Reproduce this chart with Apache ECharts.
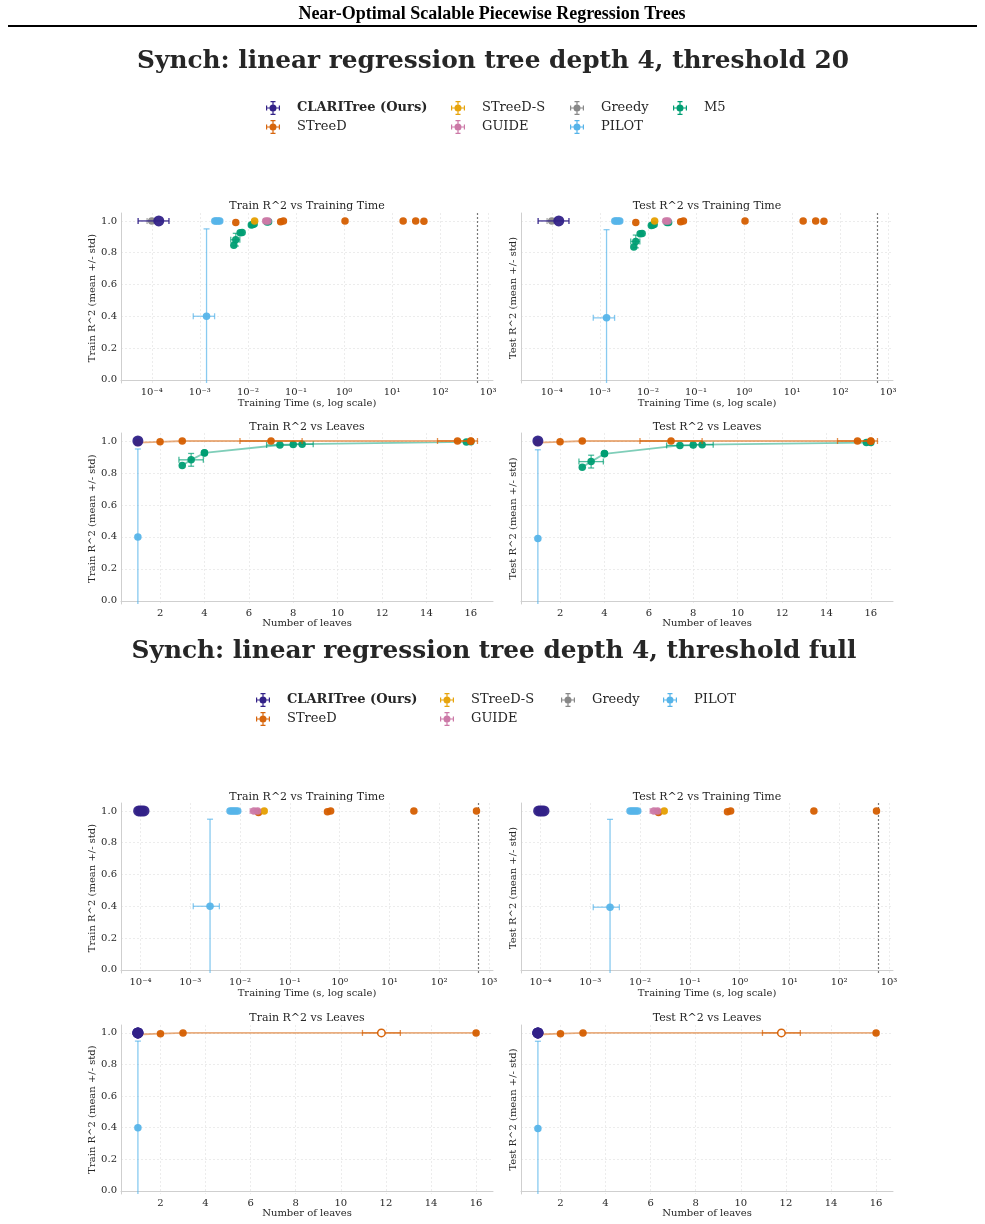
<!DOCTYPE html>
<html>
<head>
<meta charset="utf-8">
<script src="https://cdn.jsdelivr.net/npm/echarts@6/dist/echarts.min.js"></script>
<style>
html, body { margin: 0; padding: 0; background: #fff; }
#main { width: 985px; height: 1224px; }
</style>
</head>
<body>
<div id="main"></div>
<script>
// one row per configuration:
// [time (s), time std, train R2, train std, test R2, test std, leaves, leaves std]
const methodNames = ['CLARITree (Ours)', 'STreeD', 'STreeD-S', 'GUIDE', 'Greedy', 'PILOT', 'M5'];

// section 1: threshold 20
const s1Clari = [[1.4e-4, 0.88e-4, 1.0, 0, 1.0, 0, 1, 0]];
const s1STreeD = [
  [5.6e-3, 0, 0.99, 0, 0.99, 0, 1, 0],
  [0.048, 0, 0.995, 0, 0.995, 0, 2, 0],
  [0.055, 0, 1.0, 0, 1.0, 0, 3, 0],
  [1.05, 0, 1.0, 0, 1.0, 0, 7, 1.4],
  [17, 0, 1.0, 0, 1.0, 0, 15.4, 0.9],
  [31, 0, 1.0, 0, 1.0, 0, 16, 0],
  [46, 0, 0.998, 0, 0.998, 0, 16, 0]
];
const s1STreeDS = [[0.0138, 0, 1.0, 0, 1.0, 0, null, null]];
const s1Guide = [
  [0.0235, 0.002, 1.0, 0, 1.0, 0, null, null],
  [0.0262, 0, 1.0, 0, 1.0, 0, null, null]
];
const s1Greedy = [[1.0e-4, 0.2e-4, 1.0, 0, 1.0, 0, null, null]];
const s1Pilot = [
  [2.05e-3, 0, 1.0, 0, 1.0, 0, 1, 0],
  [2.2e-3, 0, 1.0, 0, 1.0, 0, 1, 0],
  [2.4e-3, 0, 1.0, 0, 1.0, 0, 1, 0],
  [2.6e-3, 0, 1.0, 0, 1.0, 0, 1, 0],
  [1.38e-3, 0.65e-3, 0.40, 0.55, 0.39, 0.555, 1, 0]
];
const s1M5 = [
  [5.1e-3, 0, 0.847, 0, 0.836, 0, 3.0, 0],
  [5.6e-3, 1.2e-3, 0.882, 0.04, 0.871, 0.04, 3.4, 0.55],
  [6.9e-3, 0, 0.925, 0, 0.920, 0, 4.0, 0],
  [7.6e-3, 0, 0.927, 0, 0.921, 0, 4.0, 0],
  [0.0118, 0, 0.975, 0, 0.972, 0, 7.4, 0.6],
  [0.0126, 0, 0.978, 0, 0.975, 0, 8.0, 0],
  [0.0135, 0, 0.980, 0, 0.977, 0, 8.4, 0.5],
  [0.025, 0, 0.994, 0, 0.99, 0, 15.8, 0],
  [0.027, 0, 0.995, 0, 0.99, 0, 16.0, 0]
];

// section 2: threshold full
const s2Clari = [
  [0.92e-4, 0, 1.0, 0, 1.0, 0, 1, 0],
  [1.0e-4, 0, 1.0, 0, 1.0, 0, 1, 0],
  [1.08e-4, 0, 1.0, 0, 1.0, 0, 1, 0],
  [1.18e-4, 0, 1.0, 0, 1.0, 0, 1, 0]
];
const s2STreeD = [
  [0.0235, 0, 0.99, 0, 0.99, 0, 1, 0],
  [0.57, 0, 0.995, 0, 0.995, 0, 2, 0],
  [0.66, 0, 1.0, 0, 1.0, 0, 3, 0],
  [31, 0, 1.0, 0, 1.0, 0, 11.8, 0.84],
  [560, 0, 1.0, 0, 1.0, 0, 16, 0]
];
const s2STreeDTimeout = [false, false, false, true, false];
const s2STreeDS = [[0.0306, 0, 1.0, 0, 1.0, 0, null, null]];
const s2Guide = [
  [0.019, 0.003, 1.0, 0, 1.0, 0, null, null],
  [0.0225, 0, 1.0, 0, 1.0, 0, null, null]
];
const s2Greedy = [[1.0e-4, 0, 1.0, 0, 1.0, 0, null, null]];
const s2Pilot = [
  [6.3e-3, 0, 1.0, 0, 1.0, 0, 1, 0],
  [6.9e-3, 0, 1.0, 0, 1.0, 0, 1, 0],
  [7.5e-3, 0, 1.0, 0, 1.0, 0, 1, 0],
  [8.2e-3, 0, 1.0, 0, 1.0, 0, 1, 0],
  [9.0e-3, 0, 1.0, 0, 1.0, 0, 1, 0],
  [2.5e-3, 1.35e-3, 0.40, 0.548, 0.394, 0.553, 1, 0]
];

const timeLimit = 600;
const yTicks = [0, 0.2, 0.4, 0.6, 0.8, 1.0];
const leafTicks = [2, 4, 6, 8, 10, 12, 14, 16];
const decadeTicks = [-4, -3, -2, -1, 0, 1, 2, 3];

const sections = [
  {
    title: 'Synch: linear regression tree depth 4, threshold 20',
    rows: [s1Clari, s1STreeD, s1STreeDS, s1Guide, s1Greedy, s1Pilot, s1M5],
    timeout: {}
  },
  {
    title: 'Synch: linear regression tree depth 4, threshold full',
    rows: [s2Clari, s2STreeD, s2STreeDS, s2Guide, s2Greedy, s2Pilot, null],
    timeout: { STreeD: s2STreeDTimeout }
  }
];

const colors = {
  'CLARITree (Ours)': '#332288', 'STreeD': '#D55E00', 'STreeD-S': '#E69F00',
  'GUIDE': '#CC79A7', 'Greedy': '#888888', 'PILOT': '#56B4E9', 'M5': '#009E73'
};
const drawOrder = ['Greedy', 'PILOT', 'M5', 'STreeD', 'STreeD-S', 'GUIDE', 'CLARITree (Ours)'];
const lineMethods = ['STreeD', 'M5'];

const FONT = 'DejaVu Serif';
const TXT = '#262626';
const Y_MIN = -0.02, Y_MAX = 1.05;

const grids = [
  { left: 121, top: 213, width: 372, height: 170 },
  { left: 521, top: 213, width: 372, height: 170 },
  { left: 121, top: 433, width: 372, height: 171 },
  { left: 521, top: 433, width: 372, height: 171 },
  { left: 121, top: 803, width: 372, height: 170 },
  { left: 521, top: 803, width: 372, height: 170 },
  { left: 121, top: 1025, width: 372, height: 169 },
  { left: 521, top: 1025, width: 372, height: 169 }
];
const timeRange = [[Math.pow(10, -4.64), Math.pow(10, 3.1)], [Math.pow(10, -4.39), Math.pow(10, 3.08)]];
const leafRange = [[0.24, 17.0], [0.25, 16.75]];

const sup = { '-': '\u207B', '0': '\u2070', '1': '\u00B9', '2': '\u00B2', '3': '\u00B3', '4': '\u2074',
  '5': '\u2075', '6': '\u2076', '7': '\u2077', '8': '\u2078', '9': '\u2079' };
function logLabel(v) {
  const e = Math.log10(v);
  const r = Math.round(e);
  if (Math.abs(e - r) > 1e-6 || decadeTicks.indexOf(r) < 0) return '';
  return '10' + String(r).split('').map(c => sup[c]).join('');
}

const gridLine = { show: true, showMinLine: false, showMaxLine: false,
  lineStyle: { color: '#e8e8e8', type: [2, 2], width: 0.8 } };
const spine = { show: true, lineStyle: { color: '#cfcfcf', width: 1 } };
const tickFont = { fontFamily: FONT, fontSize: 10, color: TXT };

const xAxes = [], yAxes = [], series = [];

function errRender(dir, alpha) {
  return function (params, api) {
    const x = api.value(0), y = api.value(1), lo = api.value(2), hi = api.value(3);
    const cs = params.coordSys;
    let p1, p2;
    if (dir === 'x') { p1 = api.coord([lo, y]); p2 = api.coord([hi, y]); }
    else { p1 = api.coord([x, lo]); p2 = api.coord([x, hi]); }
    let capLo = true, capHi = true;
    if (dir === 'y') {
      if (p1[1] > cs.y + cs.height) { p1[1] = cs.y + cs.height; capLo = false; }
      if (p2[1] < cs.y) { p2[1] = cs.y; capHi = false; }
    }
    const style = { stroke: api.visual('color'), lineWidth: 1.3, opacity: alpha };
    const c = 3;
    const kids = [{ type: 'line', shape: { x1: p1[0], y1: p1[1], x2: p2[0], y2: p2[1] }, style }];
    [[p1, capLo], [p2, capHi]].forEach(([p, on]) => {
      if (!on) return;
      const shape = dir === 'x'
        ? { x1: p[0], y1: p[1] - c, x2: p[0], y2: p[1] + c }
        : { x1: p[0] - c, y1: p[1], x2: p[0] + c, y2: p[1] };
      kids.push({ type: 'line', shape, style });
    });
    return { type: 'group', children: kids };
  };
}

function addErr(name, gi, dir, data, z, alpha) {
  if (!data.length) return;
  series.push({
    name, type: 'custom', xAxisIndex: gi, yAxisIndex: gi, z,
    itemStyle: { color: colors[name] }, clip: true, silent: true,
    renderItem: errRender(dir, alpha), encode: { x: 0, y: 1 }, data
  });
}

sections.forEach((sec, si) => {
  for (let p = 0; p < 4; p++) {
    const gi = si * 4 + p;
    const isTime = p < 2;
    const isTrain = p % 2 === 0;
    const yi = isTrain ? 2 : 4;
    const xi = isTime ? 0 : 6;

    if (isTime) {
      xAxes.push({
        gridIndex: gi, type: 'log', min: timeRange[si][0], max: timeRange[si][1],
        axisLine: spine, axisTick: { show: false }, splitLine: gridLine,
        axisLabel: Object.assign({ formatter: logLabel, margin: 4 }, tickFont),
        name: 'Training Time (s, log scale)', nameLocation: 'middle', nameGap: 15,
        nameTextStyle: { fontFamily: FONT, fontSize: 10, color: TXT }
      });
    } else {
      xAxes.push({
        gridIndex: gi, type: 'value', min: leafRange[si][0], max: leafRange[si][1], splitNumber: 8,
        axisLine: spine, axisTick: { show: false }, splitLine: gridLine,
        axisLabel: Object.assign({
          margin: 4,
          formatter: v => (leafTicks.indexOf(Math.round(v)) >= 0 && Math.abs(v - Math.round(v)) < 1e-6) ? String(Math.round(v)) : ''
        }, tickFont),
        name: 'Number of leaves', nameLocation: 'middle', nameGap: 14,
        nameTextStyle: { fontFamily: FONT, fontSize: 10, color: TXT }
      });
    }
    yAxes.push({
      gridIndex: gi, type: 'value', min: Y_MIN, max: Y_MAX,
      axisLine: spine, axisTick: { show: false }, splitLine: gridLine,
      axisLabel: Object.assign({
        show: isTrain, margin: 4,
        formatter: v => yTicks.some(t => Math.abs(t - v) < 1e-6) ? v.toFixed(1) : ''
      }, tickFont),
      name: (isTrain ? 'Train' : 'Test') + ' R^2 (mean +/- std)',
      nameLocation: 'middle', nameGap: isTrain ? 23 : 3,
      nameTextStyle: { fontFamily: FONT, fontSize: 10, color: TXT }
    });

    drawOrder.forEach((name, oi) => {
      const rows = sec.rows[methodNames.indexOf(name)];
      if (!rows) return;
      const z = 2 + oi;
      const big = name === 'CLARITree (Ours)';
      const color = colors[name];
      const flags = sec.timeout[name] || [];
      const used = rows.map((r, i) => ({ r, i })).filter(o => o.r[xi] != null);
      if (!used.length) return;
      if (!isTime) used.sort((a, b) => a.r[6] - b.r[6]);
      const eAlpha = big ? 0.95 : 0.7;
      addErr(name, gi, 'x', used.filter(o => o.r[xi + 1] > 0)
        .map(o => [o.r[xi], o.r[yi], o.r[xi] - o.r[xi + 1], o.r[xi] + o.r[xi + 1]]), z, eAlpha);
      addErr(name, gi, 'y', used.filter(o => o.r[yi + 1] > 0)
        .map(o => [o.r[xi], o.r[yi], o.r[yi] - o.r[yi + 1], o.r[yi] + o.r[yi + 1]]), z, eAlpha);
      const pts = used.map(o => {
        const item = { value: [o.r[xi], o.r[yi]] };
        if (!isTime && flags[o.i]) item.itemStyle = { color: '#ffffff', borderColor: color, borderWidth: 1.5 };
        return item;
      });
      const s = {
        name, xAxisIndex: gi, yAxisIndex: gi, z, silent: true,
        symbol: 'circle', symbolSize: big ? 11 : 7.5,
        itemStyle: { color, opacity: 0.95 }, data: pts
      };
      if (!isTime && lineMethods.indexOf(name) >= 0) {
        s.type = 'line';
        s.showSymbol = true;
        s.lineStyle = { color, width: 1.8, opacity: 0.5 };
      } else {
        s.type = 'scatter';
      }
      if (isTime && name === 'STreeD') {
        s.markLine = {
          silent: true, symbol: 'none', label: { show: false },
          lineStyle: { color: '#777777', type: [2, 2], width: 1.2 },
          data: [{ xAxis: timeLimit }]
        };
      }
      series.push(s);
    });
  }
});

const ebIcon = 'path://M0,6.4L14,6.4L14,7.6L0,7.6Z M0,4.5L1.2,4.5L1.2,9.5L0,9.5Z M12.8,4.5L14,4.5L14,9.5L12.8,9.5Z ' +
  'M6.4,0L7.6,0L7.6,14L6.4,14Z M4.5,0L9.5,0L9.5,1.2L4.5,1.2Z M4.5,12.8L9.5,12.8L9.5,14L4.5,14Z ' +
  'M10.5,7A3.5,3.5,0,1,1,3.5,7A3.5,3.5,0,1,1,10.5,7Z M26,7L26,7.01Z';

function legendCol(names, left, top) {
  return {
    orient: 'vertical', left, top, itemWidth: 26, itemHeight: 14, itemGap: 5,
    icon: ebIcon, selectedMode: false, padding: 0,
    textStyle: { fontFamily: FONT, fontSize: 13, color: TXT },
    data: names.map(n => {
      const d = { name: n, itemStyle: { color: colors[n], borderWidth: 0 } };
      if (n === 'CLARITree (Ours)') d.textStyle = { fontWeight: 'bold' };
      return d;
    })
  };
}
const legends = [
  legendCol(['CLARITree (Ours)', 'STreeD'], 266, 101),
  legendCol(['STreeD-S', 'GUIDE'], 451, 101),
  legendCol(['Greedy', 'PILOT'], 570, 101),
  legendCol(['M5'], 673, 101),
  legendCol(['CLARITree (Ours)', 'STreeD'], 256, 693),
  legendCol(['STreeD-S', 'GUIDE'], 440, 693),
  legendCol(['Greedy'], 561, 693),
  legendCol(['PILOT'], 663, 693)
];

function txt(text, x, y, size, weight, family, color) {
  return {
    type: 'text', x, y, silent: true,
    style: { text, fontSize: size, fontWeight: weight, fontFamily: family, fill: color,
      align: 'center', verticalAlign: 'middle', textAlign: 'center', textVerticalAlign: 'middle' }
  };
}
const subTitles = ['Train R^2 vs Training Time', 'Test R^2 vs Training Time', 'Train R^2 vs Leaves', 'Test R^2 vs Leaves'];
const subTitleY = [206, 206, 427, 427, 797, 797, 1018, 1018];
const graphics = [
  txt('Near-Optimal Scalable Piecewise Regression Trees', 492, 14, 18, 'bold', 'Liberation Serif', '#000'),
  { type: 'line', silent: true, shape: { x1: 8, y1: 26, x2: 977, y2: 26 }, style: { stroke: '#000', lineWidth: 2 } },
  txt(sections[0].title, 493, 62, 24.8, 'bold', FONT, TXT),
  txt(sections[1].title, 494, 652, 24.8, 'bold', FONT, TXT)
];
grids.forEach((g, i) => {
  graphics.push(txt(subTitles[i % 4], g.left + g.width / 2, subTitleY[i], 11, 'normal', FONT, TXT));
});

const chart = echarts.init(document.getElementById('main'), null, { renderer: 'canvas' });
chart.setOption({
  backgroundColor: '#ffffff',
  animation: false,
  grid: grids,
  xAxis: xAxes,
  yAxis: yAxes,
  legend: legends,
  graphic: graphics,
  series
});
</script>
</body>
</html>
